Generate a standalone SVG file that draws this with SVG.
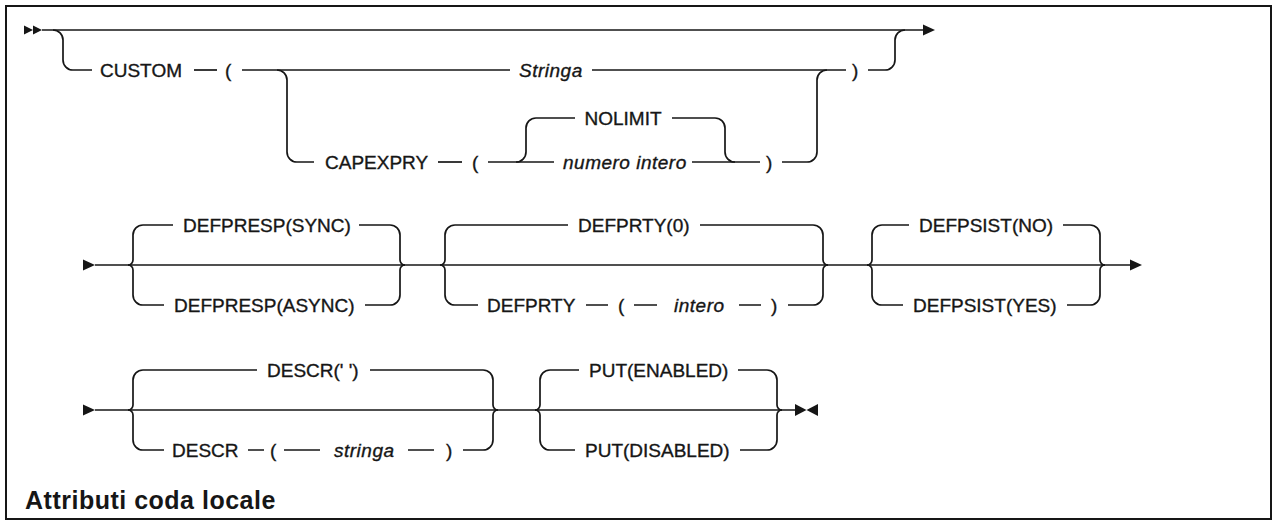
<svg xmlns="http://www.w3.org/2000/svg" width="1274" height="521" viewBox="0 0 1274 521">
<style>
.t{font-family:"Liberation Sans",Arial,sans-serif;font-size:19px;fill:#161616;stroke:#161616;stroke-width:0.35}
.v{font-style:italic;letter-spacing:0.5px}
.ttl{font-family:"Liberation Sans",Arial,sans-serif;font-size:25px;font-weight:bold;letter-spacing:0.5px;fill:#161616}
.c{fill:none;stroke:#161616;stroke-width:1.7}
.m{fill:#161616;stroke:none}
</style>
<rect x="0" y="0" width="1274" height="521" fill="#fff"/>
<rect x="6" y="6" width="1265" height="513" fill="#fff" stroke="#161616" stroke-width="2"/>
<g id="connectors" class="c">
<path d="M42 30 H925"/>
<path d="M53 30 A10 10 0 0 1 63 40 V60 A10 10 0 0 0 73 70 H92"/>
<path d="M194 70 H217"/>
<path d="M242 70 H510"/>
<path d="M592 70 H846"/>
<path d="M868 70 H885 A10 10 0 0 0 895 60 V40 A10 10 0 0 1 905 30"/>
<path d="M277 70 A10 10 0 0 1 287 80 V152 A10 10 0 0 0 297 162 H314"/>
<path d="M438 162 H462"/>
<path d="M488 162 H554"/>
<path d="M692 162 H760"/>
<path d="M782 162 H807 A10 10 0 0 0 817 152 V80 A10 10 0 0 1 827 70"/>
<path d="M516 162 A10 10 0 0 0 526 152 V128 A10 10 0 0 1 536 118 H575"/>
<path d="M672 118 H715 A10 10 0 0 1 725 128 V152 A10 10 0 0 0 735 162"/>
<path d="M95 265 H1130"/>
<path d="M128 265 A5 5 0 0 0 133 260 V235 A10 10 0 0 1 143 225 H173"/>
<path d="M359 225 H390 A10 10 0 0 1 400 235 V260 A5 5 0 0 0 405 265"/>
<path d="M128 265 A5 5 0 0 1 133 270 V295 A10 10 0 0 0 143 305 H164"/>
<path d="M365 305 H390 A10 10 0 0 0 400 295 V270 A5 5 0 0 1 405 265"/>
<path d="M440 265 A5 5 0 0 0 445 260 V235 A10 10 0 0 1 455 225 H568"/>
<path d="M700 225 H813 A10 10 0 0 1 823 235 V260 A5 5 0 0 0 828 265"/>
<path d="M440 265 A5 5 0 0 1 445 270 V295 A10 10 0 0 0 455 305 H478"/>
<path d="M586 305 H608 M634 305 H657 M739 305 H761"/>
<path d="M788 305 H813 A10 10 0 0 0 823 295 V270 A5 5 0 0 1 828 265"/>
<path d="M867 265 A5 5 0 0 0 872 260 V235 A10 10 0 0 1 882 225 H909"/>
<path d="M1063 225 H1090 A10 10 0 0 1 1100 235 V260 A5 5 0 0 0 1105 265"/>
<path d="M867 265 A5 5 0 0 1 872 270 V295 A10 10 0 0 0 882 305 H903"/>
<path d="M1067 305 H1090 A10 10 0 0 0 1100 295 V270 A5 5 0 0 1 1105 265"/>
<path d="M95 410 H795"/>
<path d="M128 410 A5 5 0 0 0 133 405 V380 A10 10 0 0 1 143 370 H257"/>
<path d="M370 370 H483 A10 10 0 0 1 493 380 V405 A5 5 0 0 0 498 410"/>
<path d="M128 410 A5 5 0 0 1 133 415 V440 A10 10 0 0 0 143 450 H164"/>
<path d="M248 450 H264 M284 450 H320 M408 450 H434"/>
<path d="M463 450 H483 A10 10 0 0 0 493 440 V415 A5 5 0 0 1 498 410"/>
<path d="M535 410 A5 5 0 0 0 540 405 V380 A10 10 0 0 1 550 370 H579"/>
<path d="M738 370 H767 A10 10 0 0 1 777 380 V405 A5 5 0 0 0 782 410"/>
<path d="M535 410 A5 5 0 0 1 540 415 V440 A10 10 0 0 0 550 450 H575"/>
<path d="M740 450 H767 A10 10 0 0 0 777 440 V415 A5 5 0 0 1 782 410"/>
</g>
<g id="markers" class="m">
<polygon points="24,25.5 33,30 24,34.5"/>
<polygon points="33,25.5 42,30 33,34.5"/>
<polygon points="923,24.5 935,30 923,35.5"/>
<polygon points="83,259.5 95,265 83,270.5"/>
<polygon points="1130,259.5 1142,265 1130,270.5"/>
<polygon points="83,404.5 95,410 83,415.5"/>
<polygon points="795,404 806.5,410 795,416"/>
<polygon points="818,404 806.5,410 818,416"/>
</g>
<g id="n-custom"><text class="t" x="100" y="77">CUSTOM</text></g>
<g id="n-custom-lp"><text class="t" x="225" y="77">(</text></g>
<g id="n-stringa"><text class="t v" x="519" y="77">Stringa</text></g>
<g id="n-custom-rp"><text class="t" x="852" y="77">)</text></g>
<g id="n-capexpry"><text class="t" x="325" y="169">CAPEXPRY</text></g>
<g id="n-cap-lp"><text class="t" x="472" y="169">(</text></g>
<g id="n-nolimit"><text class="t" x="584.5" y="125">NOLIMIT</text></g>
<g id="n-numero"><text class="t v" x="563" y="169">numero intero</text></g>
<g id="n-cap-rp"><text class="t" x="766" y="169">)</text></g>
<g id="n-defpresp-sync"><text class="t" x="183" y="232">DEFPRESP(SYNC)</text></g>
<g id="n-defpresp-async"><text class="t" x="174" y="312">DEFPRESP(ASYNC)</text></g>
<g id="n-defprty0"><text class="t" x="578" y="232">DEFPRTY(0)</text></g>
<g id="n-defprty"><text class="t" x="487" y="312">DEFPRTY</text></g>
<g id="n-defprty-lp"><text class="t" x="618" y="312">(</text></g>
<g id="n-intero"><text class="t v" x="674" y="312">intero</text></g>
<g id="n-defprty-rp"><text class="t" x="771" y="312">)</text></g>
<g id="n-defpsist-no"><text class="t" x="919" y="232">DEFPSIST(NO)</text></g>
<g id="n-defpsist-yes"><text class="t" x="913" y="312">DEFPSIST(YES)</text></g>
<g id="n-descr-def"><text class="t" x="267" y="377">DESCR(' ')</text></g>
<g id="n-descr"><text class="t" x="172" y="457">DESCR</text></g>
<g id="n-descr-lp"><text class="t" x="270" y="457">(</text></g>
<g id="n-stringa2"><text class="t v" x="334" y="457">stringa</text></g>
<g id="n-descr-rp"><text class="t" x="446" y="457">)</text></g>
<g id="n-put-en"><text class="t" x="589" y="377">PUT(ENABLED)</text></g>
<g id="n-put-dis"><text class="t" x="585" y="457">PUT(DISABLED)</text></g>
<g id="title"><text class="ttl" x="25" y="509">Attributi coda locale</text></g>
</svg>
